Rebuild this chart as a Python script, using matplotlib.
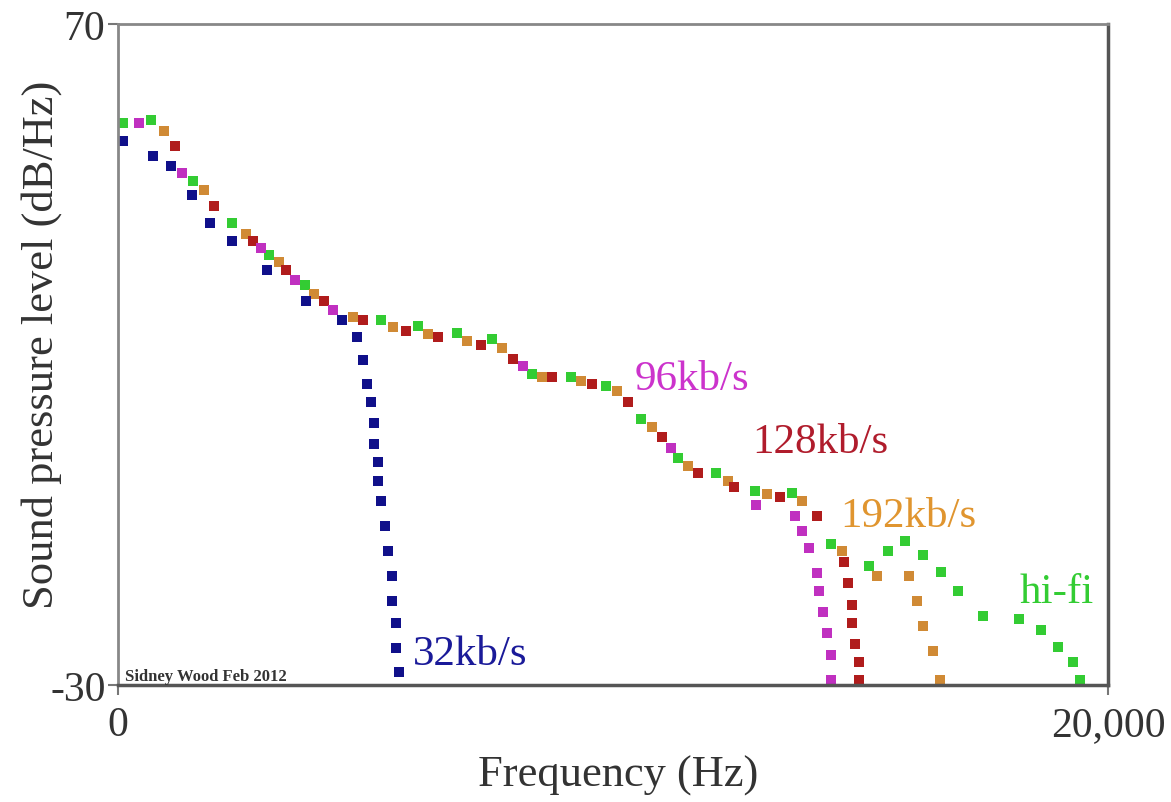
import matplotlib.pyplot as plt

# 32kb/s
blue_x = [101, 707, 1071, 1495, 1859, 2303, 3010, 3798, 4525, 4828, 4949, 5030, 5111,
          5172, 5172, 5253, 5253, 5313, 5394, 5455, 5535, 5535, 5616, 5616, 5677]
blue_y = [52.3, 50.0, 48.5, 44.1, 39.9, 37.2, 32.8, 28.1, 25.2, 22.6, 19.2, 15.5, 12.8,
          9.6, 6.5, 3.7, 0.9, -2.2, -6.0, -9.7, -13.5, -17.3, -20.6, -24.4, -28.0]

# hi-fi
green_x = [101, 667, 1515, 2303, 3051, 3778, 5313, 6061, 6848, 7556, 8364, 9152, 9859,
           10566, 11313, 12081, 12869, 13616, 14404, 15172, 15556, 15899, 16263, 16626,
           16970, 17475, 18202, 18646, 18990, 19293, 19434]
green_y = [55.0, 55.5, 46.2, 39.9, 35.05, 30.5, 25.2, 24.3, 23.25, 22.3, 17.05, 16.6, 15.2,
           10.2, 4.3, 2.1, -0.65, -0.95, -8.7, -12.0, -9.7, -8.2, -10.3, -12.9,
           -15.8, -19.6, -20.0, -21.7, -24.25, -26.5, -29.2]

# 192kb/s
orange_x = [929, 1737, 2586, 3253, 3960, 4747, 5556, 6263, 7051, 7758, 8566, 9354, 10081,
            10788, 11515, 12323, 13111, 13818, 14626, 15333, 15980, 16141, 16263, 16465, 16606]
orange_y = [53.8, 44.9, 38.2, 34.0, 29.15, 25.7, 24.2, 23.1, 22.0, 21.0, 16.6, 16.0, 14.5,
            9.0, 3.1, 0.9, -1.1, -2.2, -9.7, -13.5, -13.5, -17.3, -21.1, -24.9, -29.2]

# 128kb/s
red_x = [1152, 1939, 2727, 3394, 4162, 4949, 5818, 6465, 7333, 7980, 8768, 9576, 10303,
         10990, 11717, 12444, 13374, 14121, 14667, 14747, 14828, 14828, 14889, 14970, 14970]
red_y = [51.5, 42.5, 37.2, 32.8, 28.1, 25.2, 23.55, 22.6, 21.4, 19.3, 16.6, 15.5, 12.8,
         7.5, 2.1, -0.05, -1.55, -4.4, -11.4, -14.6, -17.9, -20.6, -23.8, -26.5, -29.2]

# 96kb/s
magenta_x = [424, 1293, 2889, 3576, 4343, 8182, 11172, 12889, 13677, 13818, 13960, 14121,
             14162, 14242, 14323, 14404, 14404]
magenta_y = [55.0, 47.5, 36.1, 31.3, 26.7, 18.3, 5.85, -2.8, -4.4, -6.7, -9.3, -13.1,
             -15.8, -19.0, -22.1, -25.5, -29.2]

series = [
    (green_x, green_y, '#33cc33'),
    (orange_x, orange_y, '#d08a35'),
    (red_x, red_y, '#b01c1c'),
    (magenta_x, magenta_y, '#c030c0'),
    (blue_x, blue_y, '#10108a'),
]

labels = [
    ('96kb/s', 10444, 16.3, '#cc33cc'),
    ('128kb/s', 12808, 6.8, '#b01c2c'),
    ('192kb/s', 14586, -4.4, '#e0952f'),
    ('hi-fi', 18222, -15.9, '#33cc33'),
    ('32kb/s', 5960, -25.3, '#1a1a99'),
]

plt.rcParams['font.family'] = ['Liberation Serif', 'DejaVu Serif']

fig = plt.figure(figsize=(11.71, 8.03), dpi=100)
ax = fig.add_axes([118 / 1171, 1 - 686 / 803, 990 / 1171, 661 / 803])

for xs, ys, c in series:
    ax.plot(xs, ys, linestyle='none', marker='s', markersize=7.5,
            color=c, markeredgewidth=0)

for txt, x, y, c in labels:
    ax.text(x, y, txt, color=c, fontsize=31, ha='left', va='center')

ax.text(150, -28.6, 'Sidney Wood Feb 2012', fontsize=12, fontweight='bold',
        color='#333333', ha='left', va='center')

ax.set_xlim(0, 20000)
ax.set_ylim(-30, 70)
ax.set_xticks([0, 20000])
ax.set_xticklabels(['0', '20,000'])
ax.set_yticks([-30, 70])
ax.set_yticklabels(['-30', '70'])
ax.tick_params(labelsize=30, length=7, width=1.5, color='#777777',
               labelcolor='#333333')
ax.tick_params(axis='x', pad=8)
ax.tick_params(axis='y', pad=2)

for side in ['left', 'top']:
    ax.spines[side].set_color('#888888')
    ax.spines[side].set_linewidth(2)
for side in ['right', 'bottom']:
    ax.spines[side].set_color('#555555')
    ax.spines[side].set_linewidth(2.5)

ax.set_xlabel('Frequency (Hz)', fontsize=32, color='#333333')
ax.set_ylabel('Sound pressure level (dB/Hz)', fontsize=32, color='#333333')
ax.xaxis.set_label_coords(0.505, -0.105)
ax.yaxis.set_label_coords(-0.057, 0.516)

fig.savefig('out.png', dpi=100)
